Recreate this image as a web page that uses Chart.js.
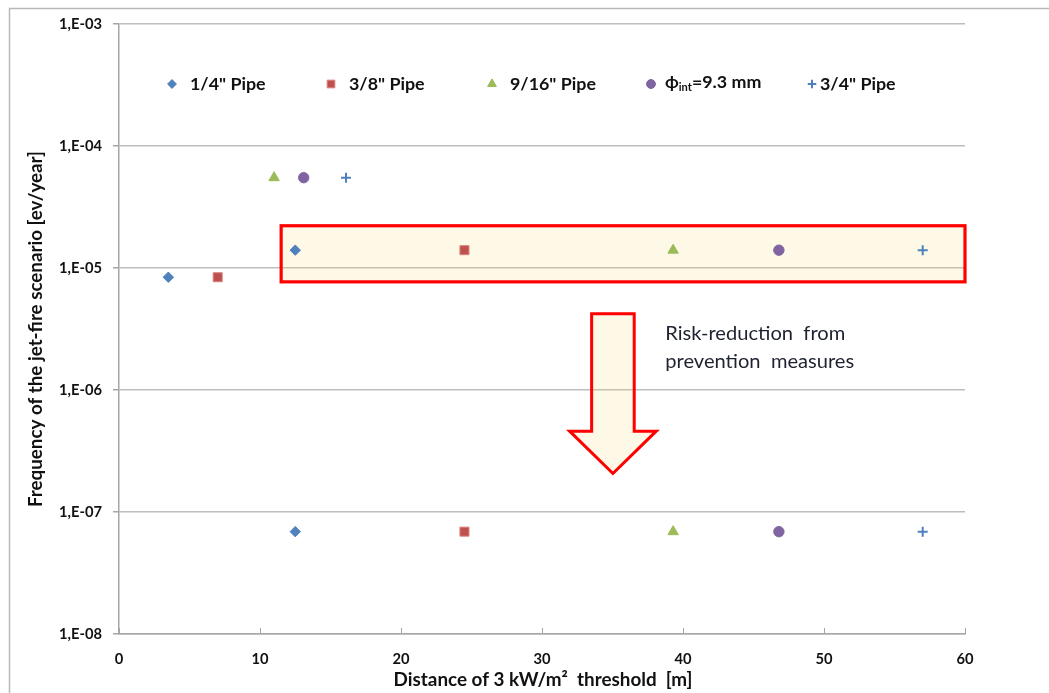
<!DOCTYPE html>
<html>
<head>
<meta charset="utf-8">
<script src="https://cdn.jsdelivr.net/npm/chart.js@4/dist/chart.umd.min.js"></script>
<style>
  html, body { margin: 0; padding: 0; background: #fff; }
  #wrap { width: 1049px; height: 693px; position: relative; }
</style>
</head>
<body>
<div id="wrap"><canvas id="c" width="1049" height="693"></canvas></div>
<script>
// Distance of the 3 kW/m2 threshold [m] and jet-fire frequency [ev/year] per pipe size
const seriesNames = ['1/4" Pipe', '3/8" Pipe', '9/16" Pipe', 'ϕint=9.3 mm', '3/4" Pipe'];
const pipeQuarterX = [3.5, 12.5, 12.5];
const pipeQuarterY = [8.4e-6, 1.4e-5, 6.9e-8];
const pipeThreeEighthsX = [7.0, 24.5, 24.5];
const pipeThreeEighthsY = [8.4e-6, 1.4e-5, 6.9e-8];
const pipeNineSixteenthsX = [11.0, 39.3, 39.3];
const pipeNineSixteenthsY = [5.5e-5, 1.4e-5, 6.9e-8];
const pipeInt93X = [13.1, 46.8, 46.8];
const pipeInt93Y = [5.5e-5, 1.4e-5, 6.9e-8];
const pipeThreeQuarterX = [16.1, 57.0, 57.0];
const pipeThreeQuarterY = [5.5e-5, 1.4e-5, 6.9e-8];

const xTicks = [0, 10, 20, 30, 40, 50, 60];
const yTicks = [1e-8, 1e-7, 1e-6, 1e-5, 1e-4, 1e-3];
const yTickLabels = ['1,E-08', '1,E-07', '1,E-06', '1,E-05', '1,E-04', '1,E-03'];

// highlighted band of the pre-measure frequencies (data units)
const bandX = [11.5, 60];
const bandY = [7.7e-6, 2.22e-5];
// risk-reduction arrow (data units): centre x, shaft/head half widths, top, head base, tip
const arrowX = [35.03, 1.51, 3.07];
const arrowY = [4.22e-6, 4.6e-7, 2.07e-7];
const arrowText = ['Risk-reduction  from', 'prevention  measures'];

const xTitle = 'Distance of 3 kW/m²  threshold  [m]';
const yTitle = 'Frequency of the jet-fire scenario [ev/year]';

const BLUE = '#4F81BD', RED = '#C0504D', GREEN = '#9BBB59', PURPLE = '#8064A2';
const FONT = 'Lato, "Open Sans", "DejaVu Sans", sans-serif';

// font size that makes a string span the wanted width
const probe = document.createElement('canvas').getContext('2d');
function fitSize(text, width, weight) {
  probe.font = weight + ' 100px ' + FONT;
  return 100 * width / probe.measureText(text).width;
}
const tickSize = fitSize('1,E-03', 43, 'bold');
const legendSize = fitSize('9/16" Pipe', 86, 'bold');
const xTitleSize = fitSize(xTitle, 299, 'bold');
const yTitleSize = fitSize(yTitle, 356, 'bold');
const captionSize = fitSize(arrowText[0], 180, 'normal');

function pts(xs, ys) { return xs.map((x, i) => ({ x: x, y: ys[i] })); }

const styles = [
  { pointStyle: 'rectRot', radius: 5.2, bg: BLUE, border: BLUE, bw: 1 },
  { pointStyle: 'rect', radius: 6.4, bg: RED, border: '#d9847f', bw: 1 },
  { pointStyle: 'triangle', radius: 6, bg: GREEN, border: GREEN, bw: 1 },
  { pointStyle: 'circle', radius: 5.2, bg: PURPLE, border: PURPLE, bw: 1 },
  { pointStyle: 'cross', radius: 5, bg: BLUE, border: BLUE, bw: 2 }
];
const seriesData = [
  pts(pipeQuarterX, pipeQuarterY),
  pts(pipeThreeEighthsX, pipeThreeEighthsY),
  pts(pipeNineSixteenthsX, pipeNineSixteenthsY),
  pts(pipeInt93X, pipeInt93Y),
  pts(pipeThreeQuarterX, pipeThreeQuarterY)
];

const datasets = seriesNames.map((name, i) => ({
  label: name,
  data: seriesData[i],
  showLine: false,
  pointStyle: styles[i].pointStyle,
  pointRadius: styles[i].radius,
  pointHoverRadius: styles[i].radius,
  pointBackgroundColor: styles[i].bg,
  pointBorderColor: styles[i].border,
  pointBorderWidth: styles[i].bw
}));

const decorPlugin = {
  id: 'decor',
  beforeDraw(chart) {
    const ctx = chart.ctx;
    ctx.save();
    ctx.fillStyle = '#fff';
    ctx.fillRect(0, 0, chart.width, chart.height);
    // outer frame
    ctx.strokeStyle = '#b8b8b8';
    ctx.lineWidth = 1.5;
    ctx.beginPath();
    ctx.moveTo(9.5, chart.height + 5);
    ctx.lineTo(9.5, 8.5);
    ctx.lineTo(chart.width + 5, 8.5);
    ctx.stroke();
    ctx.restore();
  },
  beforeDatasetsDraw(chart) {
    const ctx = chart.ctx;
    const xs = chart.scales.x, ys = chart.scales.y;
    ctx.save();
    // band
    const l = xs.getPixelForValue(bandX[0]), r = xs.getPixelForValue(bandX[1]);
    const t = ys.getPixelForValue(bandY[1]), b = ys.getPixelForValue(bandY[0]);
    ctx.fillStyle = 'rgba(249, 214, 110, 0.17)';
    ctx.fillRect(l, t, r - l, b - t);
    ctx.strokeStyle = '#ff0000';
    ctx.lineWidth = 3.2;
    ctx.strokeRect(l, t, r - l, b - t);
    // arrow
    const cx = xs.getPixelForValue(arrowX[0]);
    const sw = xs.getPixelForValue(arrowX[0] + arrowX[1]) - cx;
    const hw = xs.getPixelForValue(arrowX[0] + arrowX[2]) - cx;
    const top = ys.getPixelForValue(arrowY[0]);
    const base = ys.getPixelForValue(arrowY[1]);
    const tip = ys.getPixelForValue(arrowY[2]);
    ctx.beginPath();
    ctx.moveTo(cx - sw, top);
    ctx.lineTo(cx + sw, top);
    ctx.lineTo(cx + sw, base);
    ctx.lineTo(cx + hw, base);
    ctx.lineTo(cx, tip);
    ctx.lineTo(cx - hw, base);
    ctx.lineTo(cx - sw, base);
    ctx.closePath();
    ctx.fillStyle = 'rgba(249, 214, 110, 0.17)';
    ctx.fill();
    ctx.lineJoin = 'miter';
    ctx.lineWidth = 3;
    ctx.strokeStyle = '#ff0000';
    ctx.stroke();
    // arrow caption
    ctx.fillStyle = '#1e2230';
    ctx.font = captionSize.toFixed(2) + 'px ' + FONT;
    ctx.textBaseline = 'alphabetic';
    ctx.textAlign = 'left';
    const tx = cx + hw + 9;
    ctx.fillText(arrowText[0], tx, top + 26);
    ctx.fillText(arrowText[1], tx, top + 54);
    ctx.restore();
  },
  afterDraw(chart) {
    const ctx = chart.ctx;
    const area = chart.chartArea;
    const xs = chart.scales.x;
    ctx.save();
    // inward x ticks
    ctx.strokeStyle = '#a6a6a6';
    ctx.lineWidth = 1;
    xTicks.forEach(v => {
      const px = Math.round(xs.getPixelForValue(v)) + 0.5;
      ctx.beginPath();
      ctx.moveTo(px, area.bottom);
      ctx.lineTo(px, area.bottom - 6);
      ctx.stroke();
    });
    // legend
    const lx = [area.left + 53, area.left + 212, area.left + 373, area.left + 532, area.left + 693];
    const ly = area.top + 60;
    const lf = 'bold ' + legendSize.toFixed(2) + 'px ' + FONT;
    const sf = 'bold ' + (legendSize * 0.62).toFixed(2) + 'px ' + FONT;
    ctx.textBaseline = 'middle';
    ctx.textAlign = 'left';
    datasets.forEach((ds, i) => {
      ctx.save();
      ctx.fillStyle = ds.pointBackgroundColor;
      ctx.strokeStyle = ds.pointBorderColor;
      ctx.lineWidth = ds.pointBorderWidth;
      Chart.helpers.drawPoint(ctx, {
        pointStyle: ds.pointStyle,
        radius: ds.pointRadius * 0.85,
        rotation: 0,
        borderWidth: ds.pointBorderWidth
      }, lx[i], ly);
      ctx.restore();
      ctx.fillStyle = '#111';
      const gap = i === 4 ? 8 : (i === 3 ? 14 : 18);
      if (i === 3) {
        // phi with subscript
        let x = lx[i] + gap;
        ctx.font = lf;
        ctx.fillText('ϕ', x, ly - 2);
        x += ctx.measureText('ϕ').width;
        ctx.font = sf;
        ctx.fillText('int', x, ly + 3);
        x += ctx.measureText('int').width;
        ctx.font = lf;
        ctx.fillText('=9.3 mm', x, ly - 2);
      } else {
        ctx.font = lf;
        ctx.fillText(ds.label, lx[i] + gap, ly);
      }
    });
    // axis titles
    ctx.fillStyle = '#111';
    ctx.textAlign = 'center';
    ctx.textBaseline = 'middle';
    ctx.font = 'bold ' + xTitleSize.toFixed(2) + 'px ' + FONT;
    ctx.fillText(xTitle, 543, 680);
    ctx.translate(36, 329);
    ctx.rotate(-Math.PI / 2);
    ctx.font = 'bold ' + yTitleSize.toFixed(2) + 'px ' + FONT;
    ctx.fillText(yTitle, 0, 0);
    ctx.restore();
  }
};

new Chart(document.getElementById('c'), {
  type: 'scatter',
  data: { datasets: datasets },
  options: {
    responsive: false,
    animation: false,
    devicePixelRatio: 1,
    layout: { padding: { top: 24, right: 84, left: 0, bottom: 0 } },
    plugins: { legend: { display: false }, tooltip: { enabled: false } },
    scales: {
      x: {
        type: 'linear',
        min: 0, max: 60,
        afterFit(s) { s.height = 59; },
        afterBuildTicks(s) { s.ticks = xTicks.map(v => ({ value: v })); },
        grid: { display: false, drawTicks: false },
        border: { display: true, color: '#a6a6a6', width: 1.5 },
        ticks: { padding: 16, color: '#111', font: { family: FONT, size: tickSize, weight: 'bold' }, maxRotation: 0 }
      },
      y: {
        type: 'logarithmic',
        min: 1e-8, max: 1e-3,
        afterFit(s) { s.width = 119; },
        afterBuildTicks(s) { s.ticks = yTicks.map(v => ({ value: v })); },
        grid: { color: '#bdbdbd', lineWidth: 1.5, tickLength: 6, tickColor: '#a6a6a6' },
        border: { display: true, color: '#a6a6a6', width: 1.5 },
        ticks: {
          padding: 11,
          color: '#111',
          font: { family: FONT, size: tickSize, weight: 'bold' },
          callback(v, i) { return yTickLabels[i]; }
        }
      }
    }
  },
  plugins: [decorPlugin]
});
</script>
</body>
</html>
